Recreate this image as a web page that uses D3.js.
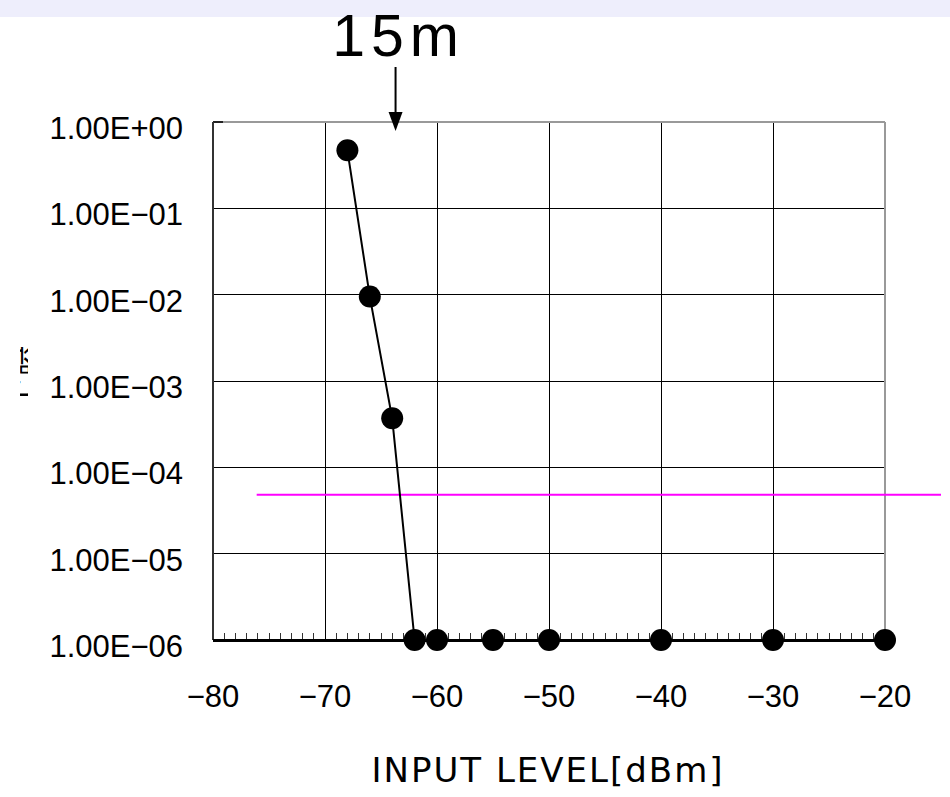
<!DOCTYPE html>
<html>
<head>
  <meta charset="utf-8">
  <title>BER vs Input Level</title>
  <style>
    body { margin: 0; background: #fff; }
    svg { display: block; }
    .tick-label { font-family: "Liberation Sans Narrow", "Liberation Sans", Arial, sans-serif; font-size: 31px; fill: #000; }
  </style>
  <script src="https://d3js.org/d3.v7.min.js"></script>
</head>
<body>
  <div id="chart"></div>
  <script>
    // data
    const inputLevel = [-68, -66, -64, -62, -60, -55, -50, -40, -30, -20];
    const ber = [0.47, 0.0095, 0.00037, 1e-6, 1e-6, 1e-6, 1e-6, 1e-6, 1e-6, 1e-6];
    const xTicks = [-80, -70, -60, -50, -40, -30, -20];
    const yTicks = [1e0, 1e-1, 1e-2, 1e-3, 1e-4, 1e-5, 1e-6];
    const yTickLabels = ["1.00E+00", "1.00E\u221201", "1.00E\u221202", "1.00E\u221203", "1.00E\u221204", "1.00E\u221205", "1.00E\u221206"];
    const limitLevel = [-76.1, -15];
    const limitBer = 4.8e-5;
    const markerLevel = -63.7;
    const markerText = "15m";
    const xTitle = "INPUT LEVEL[dBm]";
    const yTitle = "ビット誤り率";

    const W = 950, H = 797;
    const svg = d3.select("#chart").append("svg").attr("width", W).attr("height", H);

    // lavender strip on top
    svg.append("rect").attr("x", 0).attr("y", 0).attr("width", W).attr("height", 17).attr("fill", "#eeeefc");

    const pl = 213, pr = 885, pt = 122, pb = 640;
    const x = d3.scaleLinear().domain([-80, -20]).range([pl, pr]);
    const y = d3.scaleLog().domain([1e-6, 1]).range([pb, pt]);

    // grid
    const grid = svg.append("g").attr("shape-rendering", "crispEdges");
    grid.append("g").selectAll("line").data(xTicks.slice(1, -1)).join("line")
      .attr("x1", d => x(d)).attr("x2", d => x(d))
      .attr("y1", pt).attr("y2", pb)
      .attr("stroke", "#000").attr("stroke-width", 1);
    grid.append("g").selectAll("line").data(yTicks.slice(1, -1)).join("line")
      .attr("x1", pl).attr("x2", pr)
      .attr("y1", d => y(d)).attr("y2", d => y(d))
      .attr("stroke", "#000").attr("stroke-width", 1);

    // frame: top & right gray, left dark
    grid.append("line").attr("x1", pl).attr("x2", pr).attr("y1", pt).attr("y2", pt)
      .attr("stroke", "#999").attr("stroke-width", 2);
    grid.append("line").attr("x1", pr).attr("x2", pr).attr("y1", pt).attr("y2", pb)
      .attr("stroke", "#999").attr("stroke-width", 2);
    grid.append("line").attr("x1", pl).attr("x2", pl + 10).attr("y1", pt).attr("y2", pt)
      .attr("stroke", "#222").attr("stroke-width", 2);
    grid.append("line").attr("x1", pl).attr("x2", pl).attr("y1", pt).attr("y2", pb)
      .attr("stroke", "#333").attr("stroke-width", 2);

    // bottom axis with minor ticks every 1 dBm pointing up
    const minor = d3.range(-79, -20, 1).filter(v => v % 10 !== 0);
    grid.append("g").selectAll("line").data(minor).join("line")
      .attr("x1", d => x(d)).attr("x2", d => x(d))
      .attr("y1", pb).attr("y2", pb - 7)
      .attr("stroke", "#333").attr("stroke-width", 1);
    grid.append("line").attr("x1", pl).attr("x2", pr).attr("y1", pb).attr("y2", pb)
      .attr("stroke", "#000").attr("stroke-width", 3);

    // tick labels
    svg.append("g").selectAll("text").data(yTicks).join("text")
      .attr("class", "tick-label")
      .attr("x", 183).attr("y", d => y(d) + 17)
      .attr("text-anchor", "end")
      .text((d, i) => yTickLabels[i]);
    svg.append("g").selectAll("text").data(xTicks).join("text")
      .attr("class", "tick-label")
      .attr("x", d => x(d)).attr("y", 707)
      .attr("text-anchor", "middle")
      .text(d => d < 0 ? "\u2212" + Math.abs(d) : d);

    // threshold line
    svg.append("line")
      .attr("x1", x(limitLevel[0])).attr("x2", x(limitLevel[1]))
      .attr("y1", y(limitBer)).attr("y2", y(limitBer))
      .attr("stroke", "#ff00ff").attr("stroke-width", 2);

    // series
    const pts = inputLevel.map((v, i) => ({ x: v, y: ber[i] }));
    svg.append("path").datum(pts)
      .attr("fill", "none").attr("stroke", "#000").attr("stroke-width", 2)
      .attr("d", d3.line().x(d => x(d.x)).y(d => y(d.y)));
    svg.append("g").selectAll("circle").data(pts).join("circle")
      .attr("cx", d => x(d.x)).attr("cy", d => y(d.y)).attr("r", 11)
      .attr("fill", "#000");

    // marker arrow + label
    const mx = x(markerLevel);
    svg.append("line").attr("x1", mx).attr("x2", mx).attr("y1", 67).attr("y2", 116)
      .attr("stroke", "#000").attr("stroke-width", 2);
    svg.append("path")
      .attr("d", `M${mx - 7},112 L${mx + 7},112 L${mx},131 Z`)
      .attr("fill", "#000");
    svg.append("text").attr("x", mx + 3).attr("y", 56)
      .attr("text-anchor", "middle")
      .attr("font-family", "'Liberation Sans', Arial, sans-serif")
      .attr("font-size", 59)
      .attr("letter-spacing", 6)
      .text(markerText);

    // axis titles
    svg.append("text").attr("x", 548).attr("y", 782)
      .attr("text-anchor", "middle")
      .attr("font-family", "'DejaVu Sans', sans-serif")
      .attr("font-size", 34)
      .attr("letter-spacing", 2)
      .text(xTitle);

    // y title: only a sliver of it shows at the left edge in the reference
    svg.append("clipPath").attr("id", "yclip")
      .append("rect").attr("x", 20).attr("y", 340).attr("width", 8).attr("height", 72);
    svg.append("g").attr("clip-path", "url(#yclip)")
      .append("text")
      .attr("transform", "translate(28,376) rotate(-90)")
      .attr("text-anchor", "middle")
      .attr("font-family", "'Noto Sans CJK JP', sans-serif")
      .attr("font-size", 30)
      .text(yTitle);
  </script>
</body>
</html>
